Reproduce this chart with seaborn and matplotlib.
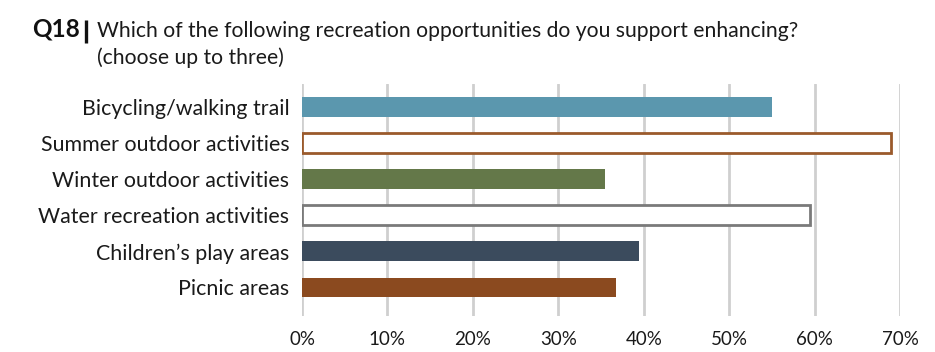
import matplotlib
matplotlib.use("Agg")
import matplotlib.pyplot as plt
import seaborn as sns
import pandas as pd
from matplotlib.ticker import PercentFormatter
from matplotlib.lines import Line2D

categories = ["Bicycling/walking trail", "Summer outdoor activities", "Winter outdoor activities",
              "Water recreation activities", "Children\u2019s play areas", "Picnic areas"]
values = [55.0, 69.0, 35.5, 59.5, 39.4, 36.7]
fill_colors = ["#5B97AE", "#FFFFFF", "#647849", "#FFFFFF", "#3B4B5D", "#8B4A1F"]
edge_colors = ["#5B97AE", "#9A5A2B", "#647849", "#7A7A7A", "#3B4B5D", "#8B4A1F"]
x_ticks = [0, 10, 20, 30, 40, 50, 60, 70]

sns.set_theme(style="white")
plt.rcParams["font.family"] = ["Lato", "DejaVu Sans"]

df = pd.DataFrame({"category": categories, "value": values})

fig = plt.figure(figsize=(9.35, 3.52), dpi=100)
ax = fig.add_axes([302/935, 1-316/352, (900-302)/935, (316-84)/352])

sns.barplot(data=df, x="value", y="category", hue="category", palette=fill_colors,
            legend=False, ax=ax, width=0.55, saturation=1, zorder=3)
for patch, ec, fc in zip(ax.patches, edge_colors, fill_colors):
    if fc == "#FFFFFF":
        patch.set_edgecolor(ec)
        patch.set_linewidth(2.0)
    else:
        patch.set_edgecolor("none")

ax.set_xlim(0, 70)
ax.set_ylim(5.79, -0.64)
ax.set_xticks(x_ticks)
ax.xaxis.set_major_formatter(PercentFormatter(decimals=0))
ax.grid(axis="x", color="#CFCFCF", linewidth=2, zorder=0)
ax.grid(axis="y", visible=False)
for s in ax.spines.values():
    s.set_visible(False)
ax.tick_params(axis="x", length=0, pad=11, labelsize=13.5, labelcolor="#1a1a1a")
ax.tick_params(axis="y", length=0, pad=9, labelsize=15.4, labelcolor="#1a1a1a")
ax.set_xlabel("")
ax.set_ylabel("")

fig.text(32/935, 1-37/352, "Q18", fontsize=17.5, fontweight="bold", color="#111111", va="baseline")
fig.add_artist(Line2D([86/935, 86/935], [1-20/352, 1-43/352], transform=fig.transFigure,
                      color="#111111", linewidth=2.4, solid_capstyle="butt"))
fig.text(97/935, 1-37/352, "Which of the following recreation opportunities do you support enhancing?",
         fontsize=15.2, color="#1a1a1a", va="baseline")
fig.text(97/935, 1-64/352, "(choose up to three)", fontsize=15.2, color="#1a1a1a", va="baseline")

fig.savefig("out.png", dpi=100, facecolor="white")
